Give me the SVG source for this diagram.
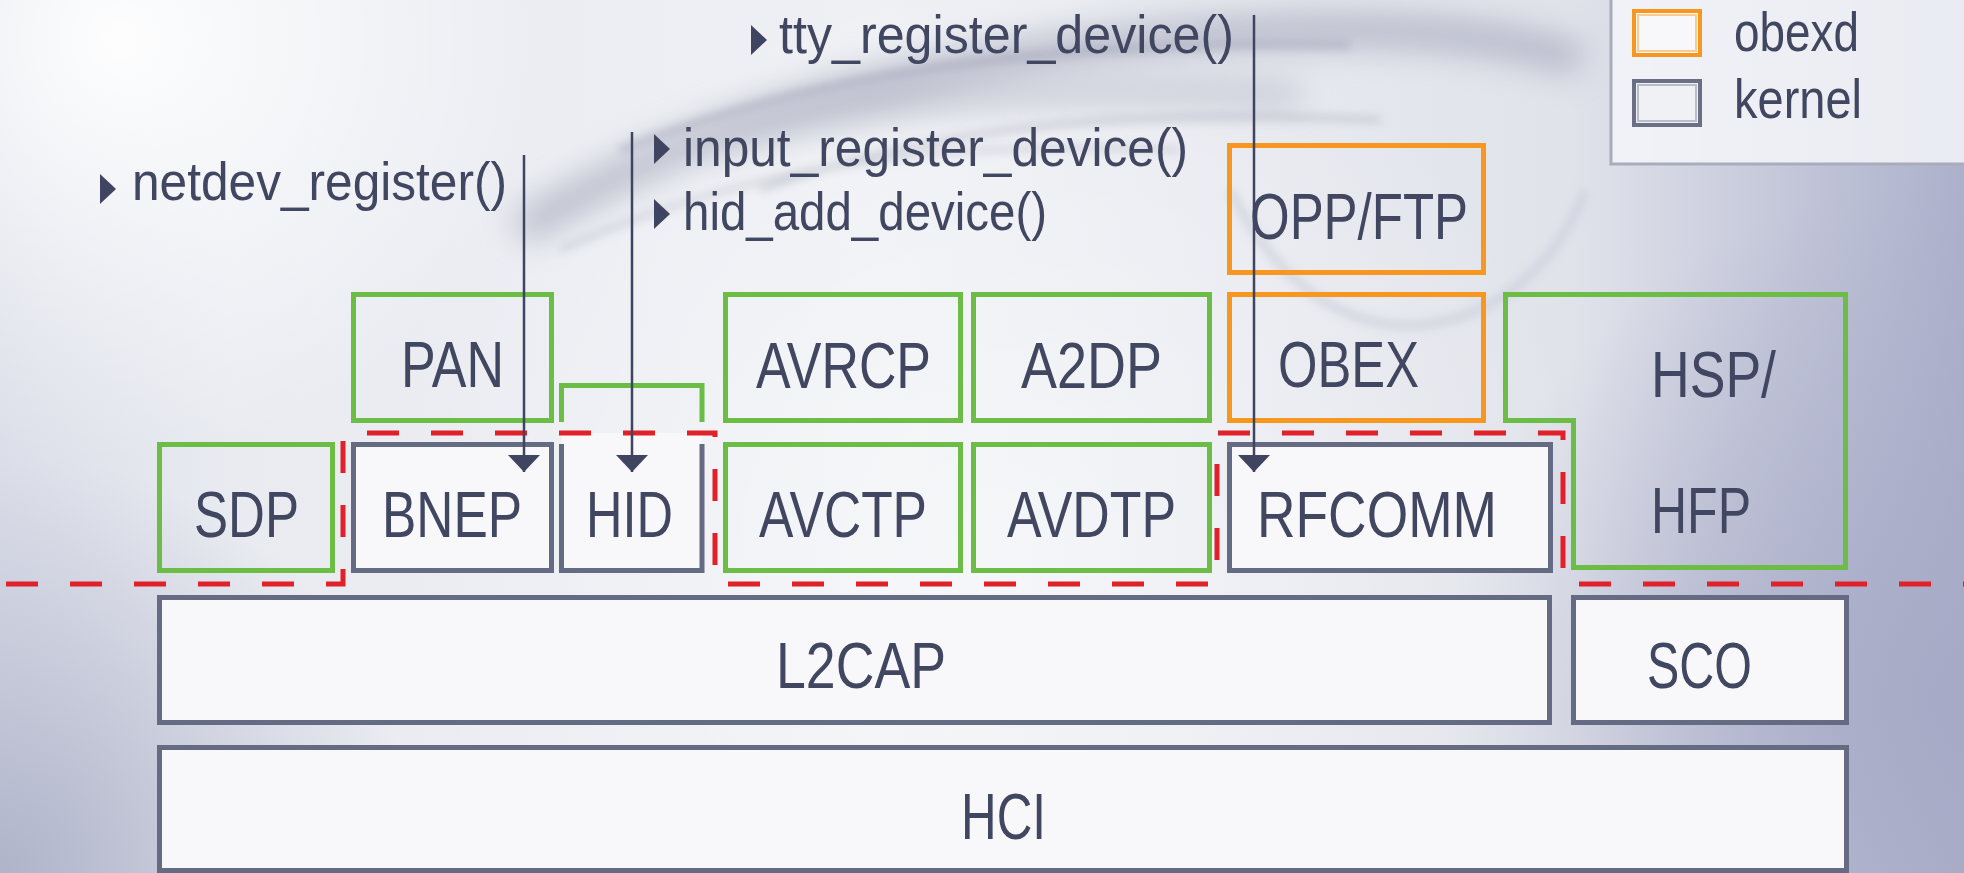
<svg xmlns="http://www.w3.org/2000/svg" width="1964" height="873" viewBox="0 0 1964 873">
<style>
.lbl{font-family:"Liberation Sans",Arial,sans-serif;font-size:65px;fill:#414760}
.fn{font-family:"Liberation Sans",Arial,sans-serif;font-size:54px;fill:#414760}
.leg{font-family:"Liberation Sans",Arial,sans-serif;font-size:56px;fill:#414760}
.g{fill:none;stroke:#6cbd45;stroke-width:5}
.o{fill:none;stroke:#f7971f;stroke-width:5}
.k{fill:#f8f8fa;stroke:#656b82;stroke-width:5}
.kl{fill:none;stroke:#656b82;stroke-width:5}
.wire{fill:none;stroke:#3f4560;stroke-width:2.5}
.red{fill:none;stroke:#e0212a;stroke-width:5;stroke-dasharray:32 32}
.tri{fill:#3f4560}
</style>
<defs>
<linearGradient id="bg" x1="0" y1="0" x2="1" y2="0">
<stop offset="0" stop-color="#dcdfe9"/>
<stop offset="0.12" stop-color="#e9ebf1"/>
<stop offset="0.45" stop-color="#eef0f4"/>
<stop offset="0.8" stop-color="#e1e3eb"/>
<stop offset="1" stop-color="#acb0cb"/>
</linearGradient>
<radialGradient id="bl" cx="0" cy="873" r="420" gradientUnits="userSpaceOnUse">
<stop offset="0" stop-color="#b0b4ca" stop-opacity="1"/>
<stop offset="1" stop-color="#b0b4ca" stop-opacity="0"/>
</radialGradient>
<radialGradient id="br" cx="1964" cy="700" r="520" gradientUnits="userSpaceOnUse">
<stop offset="0" stop-color="#a6aac6" stop-opacity="1"/>
<stop offset="1" stop-color="#a6aac6" stop-opacity="0"/>
</radialGradient>
<radialGradient id="tl" cx="120" cy="40" r="420" gradientUnits="userSpaceOnUse">
<stop offset="0" stop-color="#ffffff" stop-opacity="0.95"/>
<stop offset="1" stop-color="#ffffff" stop-opacity="0"/>
</radialGradient>
<radialGradient id="mid" cx="1000" cy="560" r="600" gradientUnits="userSpaceOnUse">
<stop offset="0" stop-color="#ffffff" stop-opacity="0.5"/>
<stop offset="1" stop-color="#ffffff" stop-opacity="0"/>
</radialGradient>
<filter id="blur" x="-20%" y="-50%" width="140%" height="200%"><feGaussianBlur stdDeviation="16"/></filter>
<filter id="blur2" x="-20%" y="-50%" width="140%" height="200%"><feGaussianBlur stdDeviation="5"/></filter>
<marker id="ah" viewBox="0 0 17 32" refX="17" refY="16" markerWidth="17" markerHeight="32" markerUnits="userSpaceOnUse" orient="auto">
<path d="M0,0 L17,16 L0,32 Z" fill="#3f4560"/>
</marker>
</defs>

<g id="background">
<rect x="0" y="0" width="1964" height="873" fill="url(#bg)"/>
<rect x="0" y="0" width="1964" height="873" fill="url(#bl)"/>
<rect x="0" y="0" width="1964" height="873" fill="url(#br)"/>
<rect x="0" y="0" width="1964" height="873" fill="url(#mid)"/>
<g filter="url(#blur)" opacity="0.5" fill="none" stroke="#8c90a8">
<path d="M520,230 C700,120 900,60 1200,35 C1380,22 1500,35 1580,60" stroke-width="34"/>
<path d="M700,150 C880,95 1050,85 1300,95" stroke-width="18"/>
</g>
<g filter="url(#blur2)" opacity="0.35" fill="none" stroke="#7d8198">
<path d="M620,150 C820,70 1050,40 1350,45" stroke-width="7"/>
<path d="M760,190 C950,120 1150,110 1380,120" stroke-width="5"/>
<path d="M560,250 C760,160 950,140 1180,150" stroke-width="4"/>
</g>
<rect x="0" y="0" width="1964" height="873" fill="url(#tl)"/>
<path d="M1230,190 C1280,290 1350,330 1420,325 C1500,318 1560,260 1585,190" fill="none" stroke="#c3c6d5" stroke-width="8" opacity="0.6" filter="url(#blur2)"/>
</g>

<g id="legend">
<rect x="1611" y="-10" width="400" height="174" fill="#f5f6f9" fill-opacity="0.85" stroke="#a9adbb" stroke-width="3"/>
<rect x="1634" y="11" width="66" height="44" fill="#f8f8fa" stroke="#f7971f" stroke-width="4"/>
<rect x="1638" y="15" width="58" height="36" fill="none" stroke="#fccb8f" stroke-width="2"/>
<text class="leg" x="1734" y="51" textLength="125" lengthAdjust="spacingAndGlyphs">obexd</text>
<rect x="1634" y="81" width="66" height="44" fill="#f0f1f5" stroke="#6a6f85" stroke-width="4"/>
<rect x="1638" y="85" width="58" height="36" fill="none" stroke="#b9bcc9" stroke-width="2"/>
<text class="leg" x="1734" y="118" textLength="128" lengthAdjust="spacingAndGlyphs">kernel</text>
</g>

<g id="node-hci">
<rect class="k" x="159.5" y="747.5" width="1687" height="123"/>
<text class="lbl" x="961" y="839" textLength="85" lengthAdjust="spacingAndGlyphs">HCI</text>
</g>
<g id="node-l2cap">
<rect class="k" x="159.5" y="597.5" width="1390" height="125"/>
<text class="lbl" x="776" y="688" textLength="170" lengthAdjust="spacingAndGlyphs">L2CAP</text>
</g>
<g id="node-sco">
<rect class="k" x="1573.5" y="597.5" width="273" height="125"/>
<text class="lbl" x="1647" y="688" textLength="105" lengthAdjust="spacingAndGlyphs">SCO</text>
</g>

<g id="node-sdp">
<rect class="g" x="159.5" y="444.5" width="173" height="126"/>
<text class="lbl" x="194" y="537" textLength="105" lengthAdjust="spacingAndGlyphs">SDP</text>
</g>
<g id="node-bnep">
<rect class="k" x="353.5" y="444.5" width="198" height="126"/>
<text class="lbl" x="382" y="537" textLength="140" lengthAdjust="spacingAndGlyphs">BNEP</text>
</g>
<g id="node-hid">
<rect x="561.5" y="433" width="140.5" height="137.5" fill="#f8f8fa"/>
<path class="kl" d="M561.5,444 V570.5 H702 V444"/>
<path class="g" d="M561.5,422 V385.5 H702 V422"/>
<text class="lbl" x="586" y="537" textLength="87" lengthAdjust="spacingAndGlyphs">HID</text>
</g>
<g id="node-avctp">
<rect class="g" x="725.5" y="444.5" width="235" height="126"/>
<text class="lbl" x="759" y="537" textLength="168" lengthAdjust="spacingAndGlyphs">AVCTP</text>
</g>
<g id="node-avdtp">
<rect class="g" x="973.5" y="444.5" width="236" height="126"/>
<text class="lbl" x="1007" y="537" textLength="169" lengthAdjust="spacingAndGlyphs">AVDTP</text>
</g>
<g id="node-rfcomm">
<rect class="k" x="1229.5" y="444.5" width="321" height="126"/>
<text class="lbl" x="1257" y="537" textLength="240" lengthAdjust="spacingAndGlyphs">RFCOMM</text>
</g>

<g id="node-pan">
<rect class="g" x="353.5" y="294.5" width="198" height="126"/>
<text class="lbl" x="401" y="387" textLength="103" lengthAdjust="spacingAndGlyphs">PAN</text>
</g>
<g id="node-avrcp">
<rect class="g" x="725.5" y="294.5" width="235" height="126"/>
<text class="lbl" x="756" y="388" textLength="175" lengthAdjust="spacingAndGlyphs">AVRCP</text>
</g>
<g id="node-a2dp">
<rect class="g" x="973.5" y="294.5" width="236" height="126"/>
<text class="lbl" x="1021" y="388" textLength="141" lengthAdjust="spacingAndGlyphs">A2DP</text>
</g>
<g id="node-obex">
<rect class="o" x="1229.5" y="294.5" width="254" height="126"/>
<text class="lbl" x="1278" y="387" textLength="141" lengthAdjust="spacingAndGlyphs">OBEX</text>
</g>
<g id="node-oppftp">
<rect class="o" x="1229.5" y="145.5" width="254" height="127"/>
<text class="lbl" x="1250" y="239" textLength="218" lengthAdjust="spacingAndGlyphs">OPP/FTP</text>
</g>
<g id="node-hsphfp">
<path class="g" d="M1505.5,294.5 H1845.5 V567.5 H1573.5 V420.5 H1505.5 Z"/>
<text class="lbl" x="1651" y="397" textLength="125" lengthAdjust="spacingAndGlyphs">HSP/</text>
<text class="lbl" x="1651" y="533" textLength="100" lengthAdjust="spacingAndGlyphs">HFP</text>
</g>

<g id="kernel-boundary">
<path class="red" stroke-dashoffset="58" d="M0,584 H343 V433 H715 V584 H1217"/>
<path class="red" stroke-dashoffset="40" d="M1217,584 V433 H1563 V584 H1964"/>
</g>

<g id="connectors">
<line class="wire" x1="524" y1="155" x2="524" y2="472" marker-end="url(#ah)"/>
<line class="wire" x1="632" y1="132" x2="632" y2="472" marker-end="url(#ah)"/>
<line class="wire" x1="1254" y1="15" x2="1254" y2="472" marker-end="url(#ah)"/>
</g>

<g id="labels">
<path class="tri" d="M100,174 L116,189 L100,204 Z"/>
<text class="fn" x="132" y="200" textLength="375" lengthAdjust="spacingAndGlyphs">netdev_register()</text>
<path class="tri" d="M654,134 L670,149 L654,164 Z"/>
<text class="fn" x="683" y="166" textLength="505" lengthAdjust="spacingAndGlyphs">input_register_device()</text>
<path class="tri" d="M654,199 L670,214 L654,229 Z"/>
<text class="fn" x="683" y="230" textLength="364" lengthAdjust="spacingAndGlyphs">hid_add_device()</text>
<path class="tri" d="M751,25 L767,40 L751,55 Z"/>
<text class="fn" x="779" y="53" textLength="455" lengthAdjust="spacingAndGlyphs">tty_register_device()</text>
</g>
</svg>
